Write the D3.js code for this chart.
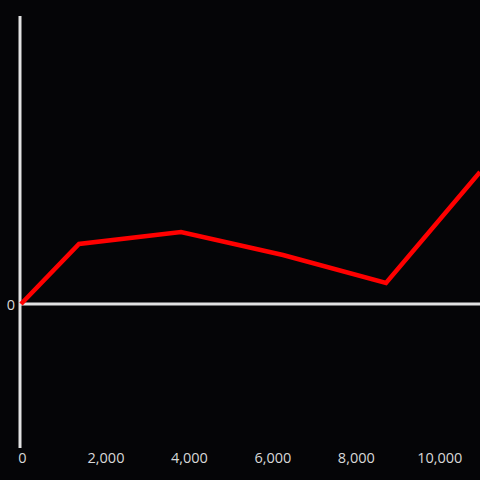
<!DOCTYPE html>
<html>
<head>
<meta charset="utf-8">
<script src="https://cdn.jsdelivr.net/npm/d3@7"></script>
<style>
  html, body { margin: 0; padding: 0; background: #050507; }
  #canvas { width: 480px; height: 480px; overflow: hidden; }
</style>
</head>
<body>
<div id="canvas"></div>
<script>
const xValues = [0, 1390, 3834, 6278, 8747, 11000];
const yValues = [0, 60, 72, 49, 21, 132];
const xTicks = [0, 2000, 4000, 6000, 8000, 10000];

const width = 480;
const height = 480;
const margin = { left: 20, top: 16, bottom: 448, right: 480 };

const svg = d3.select("#canvas").append("svg")
    .attr("width", width)
    .attr("height", height);

svg.append("rect")
    .attr("width", width)
    .attr("height", height)
    .attr("fill", "#050507");

const x = d3.scaleLinear()
    .domain([0, 11000])
    .range([margin.left + 1, margin.right]);

const y = d3.scaleLinear()
    .domain([-144, 288])
    .range([margin.bottom, margin.top]);

const axisColor = "#e2e2e2";

// x tick labels along the bottom, no ticks
const xAxis = svg.append("g")
    .attr("transform", `translate(1, ${margin.bottom})`)
    .call(d3.axisBottom(x).tickValues(xTicks).tickSize(0).tickPadding(5)
        .tickFormat(d3.format(",")));
xAxis.select(".domain").remove();

// y axis with only the 0 label
const yAxis = svg.append("g")
    .attr("transform", `translate(${margin.left}, 0.5)`)
    .call(d3.axisLeft(y).tickValues([0]).tickSize(0).tickPadding(5));
yAxis.select(".domain").remove();

svg.selectAll(".tick text")
    .attr("fill", "#d8d8d8")
    .style("font-family", "'Open Sans', sans-serif")
    .style("font-size", "14.5px");

// axis lines
svg.append("line")
    .attr("x1", margin.left).attr("x2", margin.left)
    .attr("y1", margin.top).attr("y2", margin.bottom)
    .attr("stroke", axisColor)
    .attr("stroke-width", 3);

svg.append("line")
    .attr("x1", margin.left).attr("x2", margin.right)
    .attr("y1", y(0)).attr("y2", y(0))
    .attr("stroke", axisColor)
    .attr("stroke-width", 3);

const data = xValues.map((v, i) => ({ x: v, y: yValues[i] }));

const line = d3.line()
    .x(d => x(d.x))
    .y(d => y(d.y));

svg.append("path")
    .datum(data)
    .attr("d", line)
    .attr("fill", "none")
    .attr("stroke", "#ff0000")
    .attr("stroke-width", 4.5)
    .attr("stroke-linejoin", "miter");
</script>
</body>
</html>
